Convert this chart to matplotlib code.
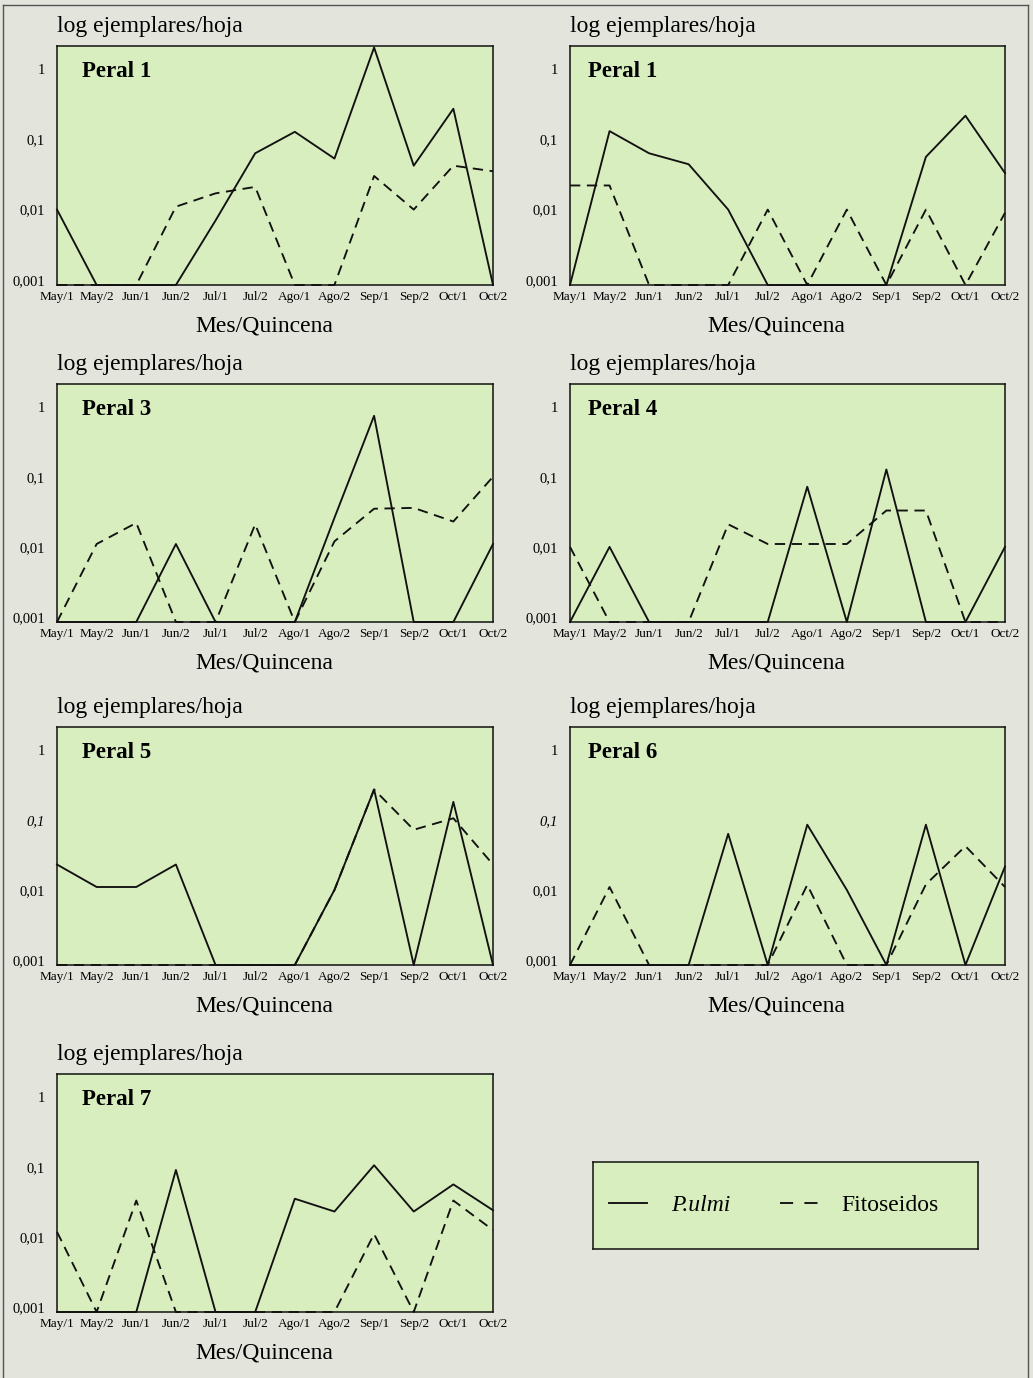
import numpy as np
import matplotlib
matplotlib.use('Agg')
import matplotlib.pyplot as plt
from matplotlib.lines import Line2D
from matplotlib.ticker import NullLocator

plt.rcParams['font.family'] = ['Liberation Serif', 'DejaVu Serif']

# datos: ejemplares/hoja por quincena (0 = sin captura, se dibuja en la base)
quincenas = ['May/1', 'May/2', 'Jun/1', 'Jun/2', 'Jul/1', 'Jul/2',
             'Ago/1', 'Ago/2', 'Sep/1', 'Sep/2', 'Oct/1', 'Oct/2']
titulos = ['Peral 1', 'Peral 1', 'Peral 3', 'Peral 4', 'Peral 5', 'Peral 6', 'Peral 7']

pulmi_1 = [0.01, 0, 0, 0, 0.007, 0.063, 0.127, 0.053, 2.0, 0.042, 0.27, 0]
fito_1 = [0, 0, 0, 0.011, 0.017, 0.021, 0, 0, 0.03, 0.01, 0.042, 0.035]
pulmi_2 = [0, 0.13, 0.063, 0.044, 0.01, 0, 0, 0, 0, 0.056, 0.215, 0.033]
fito_2 = [0.022, 0.022, 0, 0, 0, 0.01, 0, 0.01, 0, 0.01, 0, 0.009]
pulmi_3 = [0, 0, 0, 0.011, 0, 0, 0, 0.026, 0.74, 0, 0, 0.011]
fito_3 = [0, 0.011, 0.022, 0, 0, 0.021, 0, 0.012, 0.035, 0.036, 0.023, 0.1]
pulmi_4 = [0, 0.01, 0, 0, 0, 0, 0.072, 0, 0.127, 0, 0, 0.01]
fito_4 = [0.01, 0, 0, 0, 0.021, 0.011, 0.011, 0.011, 0.033, 0.033, 0, 0]
pulmi_5 = [0.023, 0.011, 0.011, 0.023, 0, 0, 0, 0.01, 0.27, 0, 0.18, 0]
fito_5 = [0, 0, 0, 0, 0, 0, 0, 0.01, 0.27, 0.072, 0.105, 0.023]
pulmi_6 = [0, 0, 0, 0, 0.063, 0, 0.085, 0.01, 0, 0.085, 0, 0.0215]
fito_6 = [0, 0.011, 0, 0, 0, 0, 0.0118, 0, 0, 0.012, 0.042, 0.011]
pulmi_7 = [0, 0, 0, 0.09, 0, 0, 0.035, 0.023, 0.105, 0.023, 0.056, 0.024]
fito_7 = [0.0118, 0, 0.033, 0, 0, 0, 0, 0, 0.011, 0, 0.033, 0.0125]

series = [(pulmi_1, fito_1), (pulmi_2, fito_2), (pulmi_3, fito_3), (pulmi_4, fito_4),
          (pulmi_5, fito_5), (pulmi_6, fito_6), (pulmi_7, fito_7)]

W, H = 1033, 1378
FONDO = '#e3e4dc'
VERDE = '#d9eebf'
NEGRO = '#111111'
YMIN, YMAX = 0.00085, 2.1
LW = 1.35
DASH = (0, (5.5, 3.5))

fig = plt.figure(figsize=(W / 100, H / 100), dpi=100, facecolor=FONDO)


def px_axes(x0, y0, x1, y1):
    return fig.add_axes([x0 / W, 1 - y1 / H, (x1 - x0) / W, (y1 - y0) / H])


cajas = [(57, 46, 493, 285), (570, 46, 1005, 285),
         (57, 384, 493, 622), (570, 384, 1005, 622),
         (57, 727, 493, 965), (570, 727, 1005, 965),
         (57, 1074, 493, 1312)]

x = np.arange(len(quincenas))
for i, (caja, (p, f)) in enumerate(zip(cajas, series)):
    ax = px_axes(*caja)
    ax.set_facecolor(VERDE)
    p = np.array(p, dtype=float)
    f = np.array(f, dtype=float)
    ax.plot(x, np.where(f > 0, f, YMIN), color=NEGRO, lw=LW, ls=DASH, clip_on=False)
    ax.plot(x, np.where(p > 0, p, YMIN), color=NEGRO, lw=LW, clip_on=False)
    ax.set_yscale('log')
    ax.set_ylim(YMIN, YMAX)
    ax.set_xlim(0, 11)
    ax.yaxis.set_minor_locator(NullLocator())
    ax.set_yticks([1, 0.1, 0.01, 0.001])
    ax.set_yticklabels(['1', '0,1', '0,01', '0,001'], fontsize=10.5)
    if i in (4, 5):
        ax.get_yticklabels()[1].set_style('italic')
    ax.set_xticks(x)
    ax.set_xticklabels(quincenas, fontsize=9.5)
    ax.tick_params(axis='y', length=0, pad=8.5)
    ax.tick_params(axis='x', length=0, pad=4)
    for s in ax.spines.values():
        s.set_color(NEGRO)
        s.set_linewidth(1.1)

    ax.annotate('log ejemplares/hoja', xy=(0, 1), xycoords='axes fraction',
                xytext=(0, 14), textcoords='offset points',
                ha='left', va='center', fontsize=17)
    ax.annotate('Mes/Quincena', xy=(0.475, 0), xycoords='axes fraction',
                xytext=(0, -29.5), textcoords='offset points',
                ha='center', va='center', fontsize=17)
    dx = 18 if caja[0] < 300 else 13
    ax.annotate(titulos[i], xy=(0, 1), xycoords='axes fraction',
                xytext=(dx, -18.5), textcoords='offset points',
                ha='left', va='center', fontsize=16.5, fontweight='bold')

# leyenda
axl = px_axes(593, 1162, 978, 1249)
axl.set_facecolor(VERDE)
axl.set_xticks([])
axl.set_yticks([])
for s in axl.spines.values():
    s.set_color(NEGRO)
    s.set_linewidth(1.1)
h1 = Line2D([], [], color=NEGRO, lw=LW)
h2 = Line2D([], [], color=NEGRO, lw=LW, ls=(0, (7, 6)))
leg = axl.legend([h1, h2], ['P.ulmi', 'Fitoseidos'], loc='center', bbox_to_anchor=(0.47, 0.5),
                 ncol=2, frameon=False, fontsize=17, handlelength=1.6,
                 handletextpad=1.0, columnspacing=2.1)
leg.get_texts()[0].set_style('italic')

# marco de la pagina
for xs, ys in [((3, 3), (5, H)), ((3, 1028), (5, 5)), ((1028, 1028), (5, H))]:
    fig.add_artist(Line2D([v / W for v in xs], [1 - v / H for v in ys],
                          color='#555555', lw=1.0))

fig.savefig('out.png', dpi=100, facecolor=FONDO)
